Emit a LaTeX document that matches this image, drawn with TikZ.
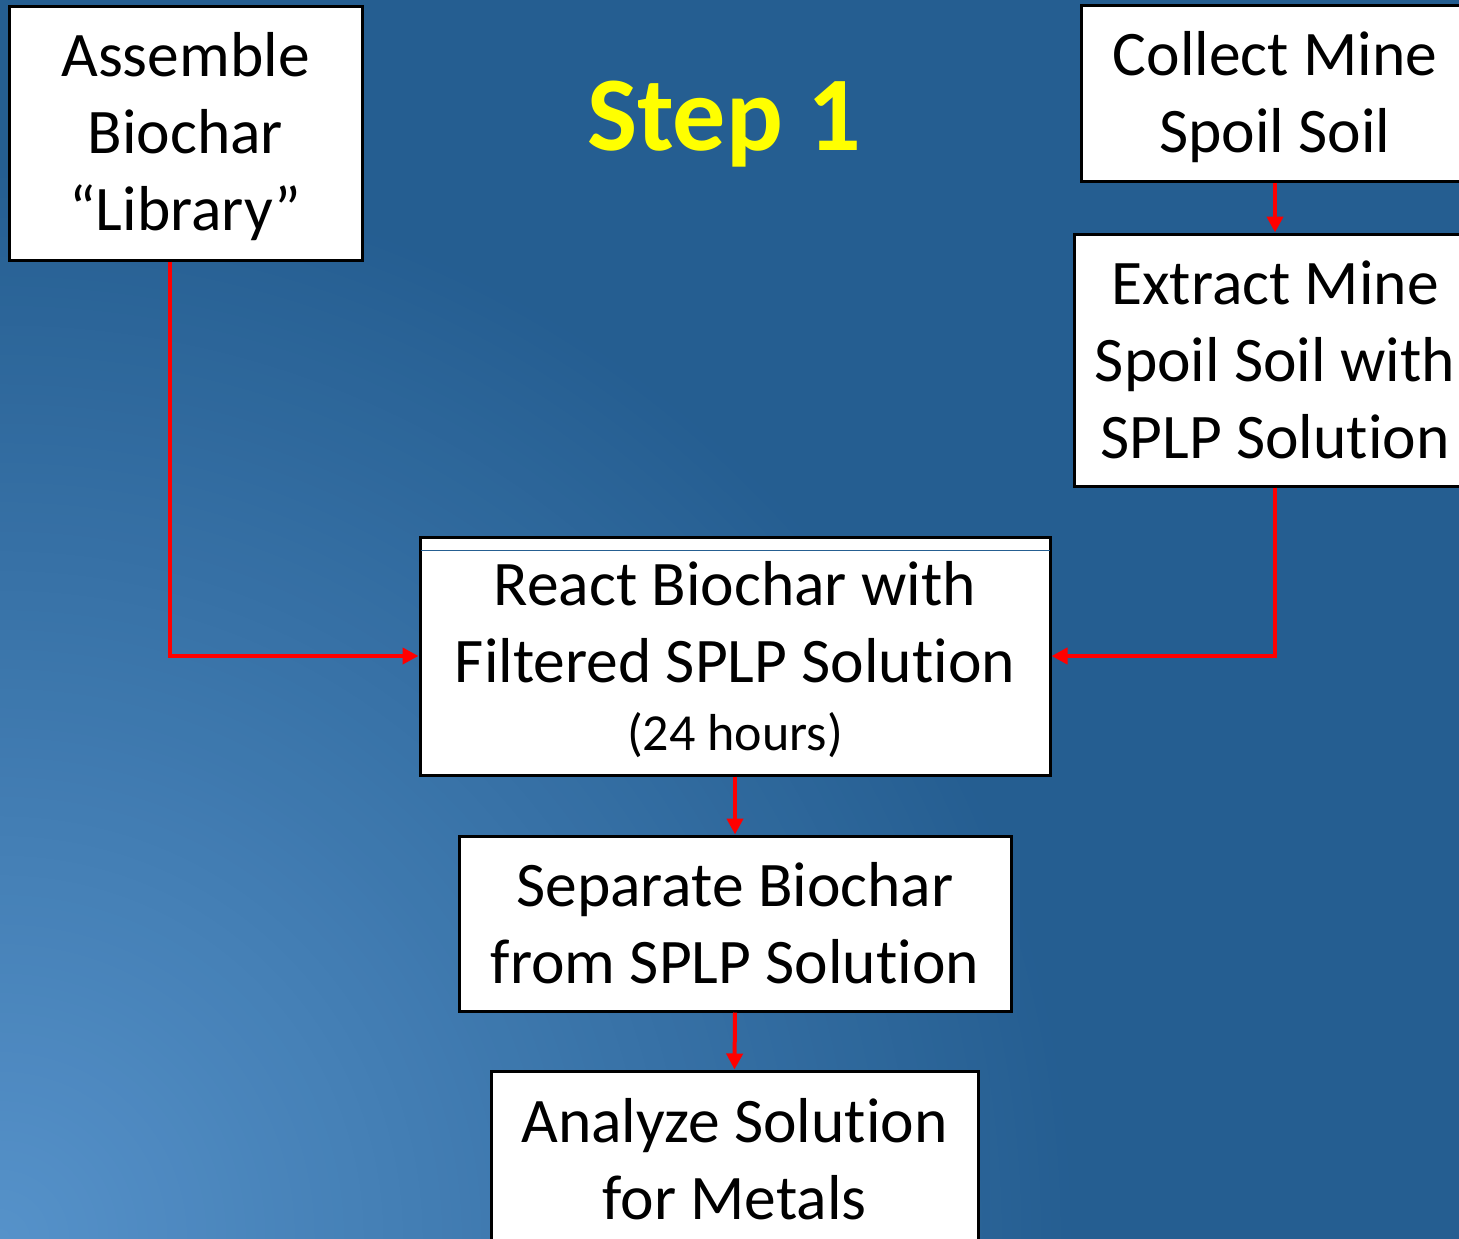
\documentclass[tikz,border=0pt]{standalone}
\usepackage{fontspec}
\setmainfont{Carlito}[RawFeature={-liga}]
\usetikzlibrary{arrows.meta,calc}
\definecolor{bgdark}{RGB}{37,94,145}
\definecolor{bglight}{RGB}{86,146,202}
\definecolor{stepyellow}{RGB}{255,255,0}
\definecolor{arrred}{RGB}{255,0,0}
\tikzset{
  box/.style={draw=black, line width=3pt, fill=white, inner sep=0pt},
  txt/.style={align=center, inner sep=0pt, font=\fontsize{63.5}{77}\selectfont},
  arr/.style={draw=arrred, line width=4pt, -{Triangle[length=16pt,width=16pt]}},
}
\begin{document}
\begin{tikzpicture}[x=1pt,y=-1pt]
\useasboundingbox (0,0) rectangle (1459,1239);
\begin{scope}
\clip (0,0) rectangle (1459,1239);
\fill[bgdark] (0,0) rectangle (1459,1239);
\foreach \i in {0,...,110}{
  \pgfmathsetmacro\r{1080*(1-\i/110)+0.6}
  \pgfmathsetmacro\p{100*\i/110}
  \fill[bglight!\p!bgdark] (0,1239) circle (\r);
}
\end{scope}
\begin{scope}
\clip (0,0) rectangle (1459,1239);
\node[box, minimum width=353pt, minimum height=253pt] (asm) at (185.5,133.5) {};
\node[box, minimum width=388pt, minimum height=175pt] (col) at (1275,93.5) {};
\node[box, minimum width=402pt, minimum height=252pt] (ext) at (1275,360) {};
\node[box, minimum width=630pt, minimum height=238pt] (react) at (735,656) {};
\node[box, minimum width=552pt, minimum height=175pt] (sep) at (735,923.5) {};
\node[box, minimum width=487pt, minimum height=177pt] (ana) at (734.5,1159.5) {};
\end{scope}
\node[txt] (asmt) at ([yshift=-3pt]asm.center) {Assemble\\Biochar\\“Library”};
\node[txt] (colt) at ([yshift=-4pt]col.center) {Collect Mine\\Spoil Soil};
\node[txt] (extt) at (ext.center) {Extract Mine\\Spoil Soil with\\SPLP Solution};
\node[txt] (reactt) at ([yshift=-4pt]react.center) {React Biochar with\\Filtered SPLP Solution\\[-9pt]{\fontsize{52}{70}\selectfont (24 hours)}};
\node[txt] (sept) at (sep.center) {Separate Biochar\\from SPLP Solution};
\node[txt] (anat) at (ana.center) {Analyze Solution\\for Metals};
\draw[bgdark, line width=1.2pt] ([xshift=2pt,yshift=-15pt]react.north west) -- ([xshift=-2pt,yshift=-15pt]react.north east);
\node[font=\fontsize{106}{120}\selectfont\bfseries, text=stepyellow] (step) at (724,124) {Step 1};
\draw[arr] ([xshift=-15.5pt]asm.south) |- (react.west);
\draw[arr] (ext.south) |- (react.east);
\draw[arr] (col.south) -- (ext.north);
\draw[arr] (react.south) -- (sep.north);
\draw[arr] (sep.south) -- (ana.north);
\end{tikzpicture}
\end{document}
